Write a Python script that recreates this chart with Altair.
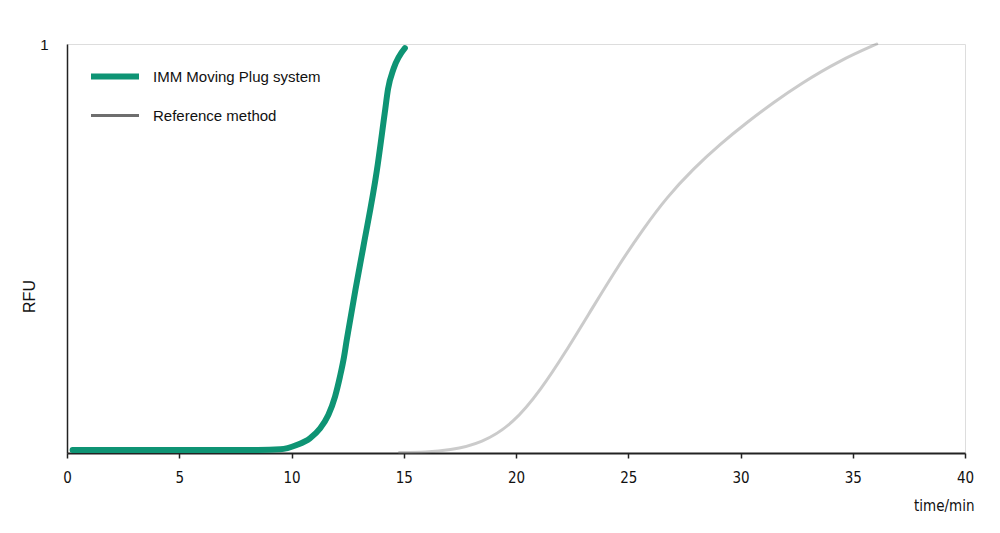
import altair as alt
import pandas as pd

# IMM Moving Plug system (green)
imm_t = [0.25, 3.0, 6.0, 8.5, 9.5, 10.23, 10.82, 11.27, 11.64, 11.94, 12.16, 12.34, 12.46, 12.55,
         12.85, 13.2, 13.8, 14.15, 14.3, 14.55, 15.05]
imm_y = [0.0075, 0.0074, 0.0073, 0.0075, 0.009, 0.0196, 0.036, 0.060, 0.093, 0.138, 0.187, 0.235, 0.276, 0.305,
         0.40, 0.504, 0.69, 0.83, 0.89, 0.94, 0.99]

# Reference method (grey)
ref_t = [14.8, 16.0, 17.0, 18.5, 19.9, 21.1, 22.18, 23.44, 24.63, 25.67, 26.71, 27.9, 29.09, 30.28, 31.47, 32.65, 34.43, 36.07]
ref_y = [0.001, 0.002, 0.006, 0.024, 0.073, 0.154, 0.244, 0.358, 0.464, 0.548, 0.625, 0.695, 0.755, 0.808, 0.857, 0.902, 0.960, 1.0]

series_names = ["IMM Moving Plug system", "Reference method"]
series_colors = ["#0e9474", "#6e6e6e"]
series_opacity = [1.0, 0.36]
series_widths = [6, 3]
x_ticks = [0, 5, 10, 15, 20, 25, 30, 35, 40]

df = pd.concat([
    pd.DataFrame({"t": imm_t, "y": imm_y, "series": series_names[0]}),
    pd.DataFrame({"t": ref_t, "y": ref_y, "series": series_names[1]}),
])

leg = dict(title=None, orient="none", legendX=21, legendY=13,
           symbolType="stroke", symbolSize=2304, clipHeight=39,
           rowPadding=0, labelOffset=11, labelLimit=400,
           labelFont="Liberation Sans", labelFontSize=15, labelColor="#111111")

enc = dict(
    x=alt.X("t:Q", scale=alt.Scale(domain=[0, 40], nice=False),
            axis=alt.Axis(values=x_ticks, title="time/min", grid=False, labelFlush=False,
                          domainColor="#222222", domainWidth=2, tickColor="#222222",
                          tickWidth=1.5, tickSize=5, labelPadding=12,
                          labelFont="DejaVu Sans Condensed", labelFontSize=15, labelColor="#111111",
                          titleFont="DejaVu Sans Condensed", titleFontSize=15, titleFontWeight="normal",
                          titleColor="#111111", titleX=907, titleY=52, titleAlign="right",
                          titleBaseline="middle")),
    y=alt.Y("y:Q", scale=alt.Scale(domain=[0, 1], nice=False),
            axis=alt.Axis(values=[1], title="RFU", grid=False, ticks=False,
                          domainColor="#222222", domainWidth=1.5, labelPadding=19,
                          labelFont="Liberation Sans", labelFontSize=15, labelColor="#111111",
                          titleFont="Liberation Sans", titleFontSize=16, titleFontWeight="normal",
                          titleColor="#111111", titleX=-38, titleY=252, titleAngle=-90,
                          titleAlign="center", titleBaseline="middle")),
    color=alt.Color("series:N", scale=alt.Scale(domain=series_names, range=series_colors),
                    legend=alt.Legend(**leg)),
    strokeWidth=alt.StrokeWidth("series:N", scale=alt.Scale(domain=series_names, range=series_widths),
                                legend=alt.Legend(**leg)),
    strokeOpacity=alt.StrokeOpacity("series:N", scale=alt.Scale(domain=series_names, range=series_opacity),
                                    legend=None),
)

base = alt.Chart(df)
ref_line = base.transform_filter(alt.datum.series == series_names[1]).mark_line(
    interpolate="basis", strokeCap="round").encode(**enc)
imm_line = base.transform_filter(alt.datum.series == series_names[0]).mark_line(
    interpolate="monotone", strokeCap="round").encode(**enc)

chart = alt.layer(ref_line, imm_line).properties(
    width=898, height=409,
    autosize=alt.AutoSizeParams(type="none"),
    padding={"left": 59, "top": 36, "right": 27, "bottom": 72},
).configure_view(stroke="transparent", strokeWidth=0).configure(background="white")

chart.save("out.html", embed_options={"renderer": "svg", "actions": False})
